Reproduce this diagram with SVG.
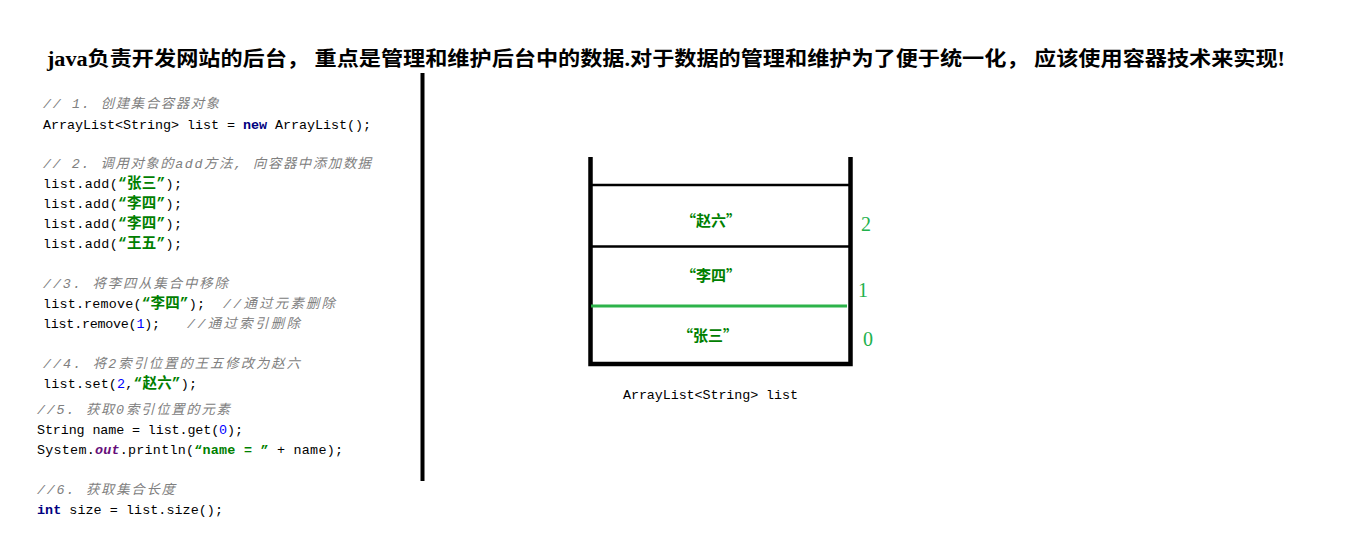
<svg xmlns="http://www.w3.org/2000/svg" width="1353" height="539" viewBox="0 0 1353 539">
<style>
.title{font-family:"Liberation Serif","Noto Sans CJK SC",serif;font-size:20px;font-weight:bold;fill:#000}
.code{font-family:"Liberation Mono","Noto Sans CJK SC",monospace;font-size:13.4px;fill:#000}
.cm{fill:#808080;font-style:italic}
.kw{fill:#000080;font-weight:bold}
.num{fill:#0000ff}
.str{fill:#008000;font-weight:bold;font-size:14.5px}
.fld{fill:#660e7a;font-weight:bold;font-style:italic}
.cell{font-family:"Noto Sans CJK SC",sans-serif;font-size:15px;font-weight:bold;fill:#008000}
.idx{font-family:"Liberation Serif",serif;font-size:20px;fill:#22b14c}
.wall{stroke:#000;stroke-width:4.5;fill:none}
.sep{stroke:#000;stroke-width:2.5}
</style>
<rect width="1353" height="539" fill="#fff"/>
<g id="title">
<text class="title" x="47" y="66" textLength="1238" lengthAdjust="spacingAndGlyphs">java负责开发网站的后台， 重点是管理和维护后台中的数据.对于数据的管理和维护为了便于统一化， 应该使用容器技术来实现!</text>
</g>
<g id="code">
<text class="code cm" x="43" y="108" textLength="176">// 1. 创建集合容器对象</text>
<text class="code" x="43" y="129" textLength="328">ArrayList&lt;String&gt; list = <tspan class="kw">new</tspan> ArrayList();</text>
<text class="code cm" x="43" y="168" textLength="328">// 2. 调用对象的add方法, 向容器中添加数据</text>
<text class="code" x="43" y="188" textLength="139">list.add(<tspan class="str">“张三”</tspan>);</text>
<text class="code" x="43" y="208" textLength="139">list.add(<tspan class="str">“李四”</tspan>);</text>
<text class="code" x="43" y="228" textLength="139">list.add(<tspan class="str">“李四”</tspan>);</text>
<text class="code" x="43" y="248" textLength="139">list.add(<tspan class="str">“王五”</tspan>);</text>
<text class="code cm" x="43" y="288" textLength="185">//3. 将李四从集合中移除</text>
<text class="code" x="43" y="308" textLength="162">list.remove(<tspan class="str">“李四”</tspan>);</text>
<text class="code cm" x="223" y="308" textLength="112">//通过元素删除</text>
<text class="code" x="43" y="328" textLength="117">list.remove(<tspan class="num">1</tspan>);</text>
<text class="code cm" x="187" y="328" textLength="113">//通过索引删除</text>
<text class="code cm" x="43" y="368" textLength="257">//4. 将2索引位置的王五修改为赵六</text>
<text class="code" x="43" y="388" textLength="154">list.set(<tspan class="num">2</tspan>,<tspan class="str">“赵六”</tspan>);</text>
<text class="code cm" x="37" y="414" textLength="193">//5. 获取0索引位置的元素</text>
<text class="code" x="37" y="434" textLength="206">String name = list.get(<tspan class="num">0</tspan>);</text>
<text class="code" x="37" y="454" textLength="306">System.<tspan class="fld">out</tspan>.println(<tspan class="str" style="font-size:13.4px">“name = ”</tspan> + name);</text>
<text class="code cm" x="37" y="494" textLength="138">//6. 获取集合长度</text>
<text class="code" x="37" y="514" textLength="186"><tspan class="kw">int</tspan> size = list.size();</text>
</g>
<g id="divider">
<line x1="422.5" y1="73" x2="422.5" y2="481" stroke="#000" stroke-width="4"/>
</g>
<g id="container">
<path class="wall" d="M590.5 157 V364 H850.5 V157"/>
<line class="sep" x1="592" y1="185" x2="849" y2="185"/>
<line class="sep" x1="592" y1="246.5" x2="849" y2="246.5"/>
<line x1="591" y1="306" x2="847" y2="306" stroke="#2db34a" stroke-width="3"/>
<text class="cell" x="711" y="226" text-anchor="middle">“赵六”</text>
<text class="cell" x="711" y="281" text-anchor="middle">“李四”</text>
<text class="cell" x="708" y="341" text-anchor="middle">“张三”</text>
<text class="idx" x="866" y="231" text-anchor="middle">2</text>
<text class="idx" x="863" y="297" text-anchor="middle">1</text>
<text class="idx" x="868" y="346" text-anchor="middle">0</text>
<text class="code" x="623" y="399" textLength="175">ArrayList&lt;String&gt; list</text>
</g>
</svg>
